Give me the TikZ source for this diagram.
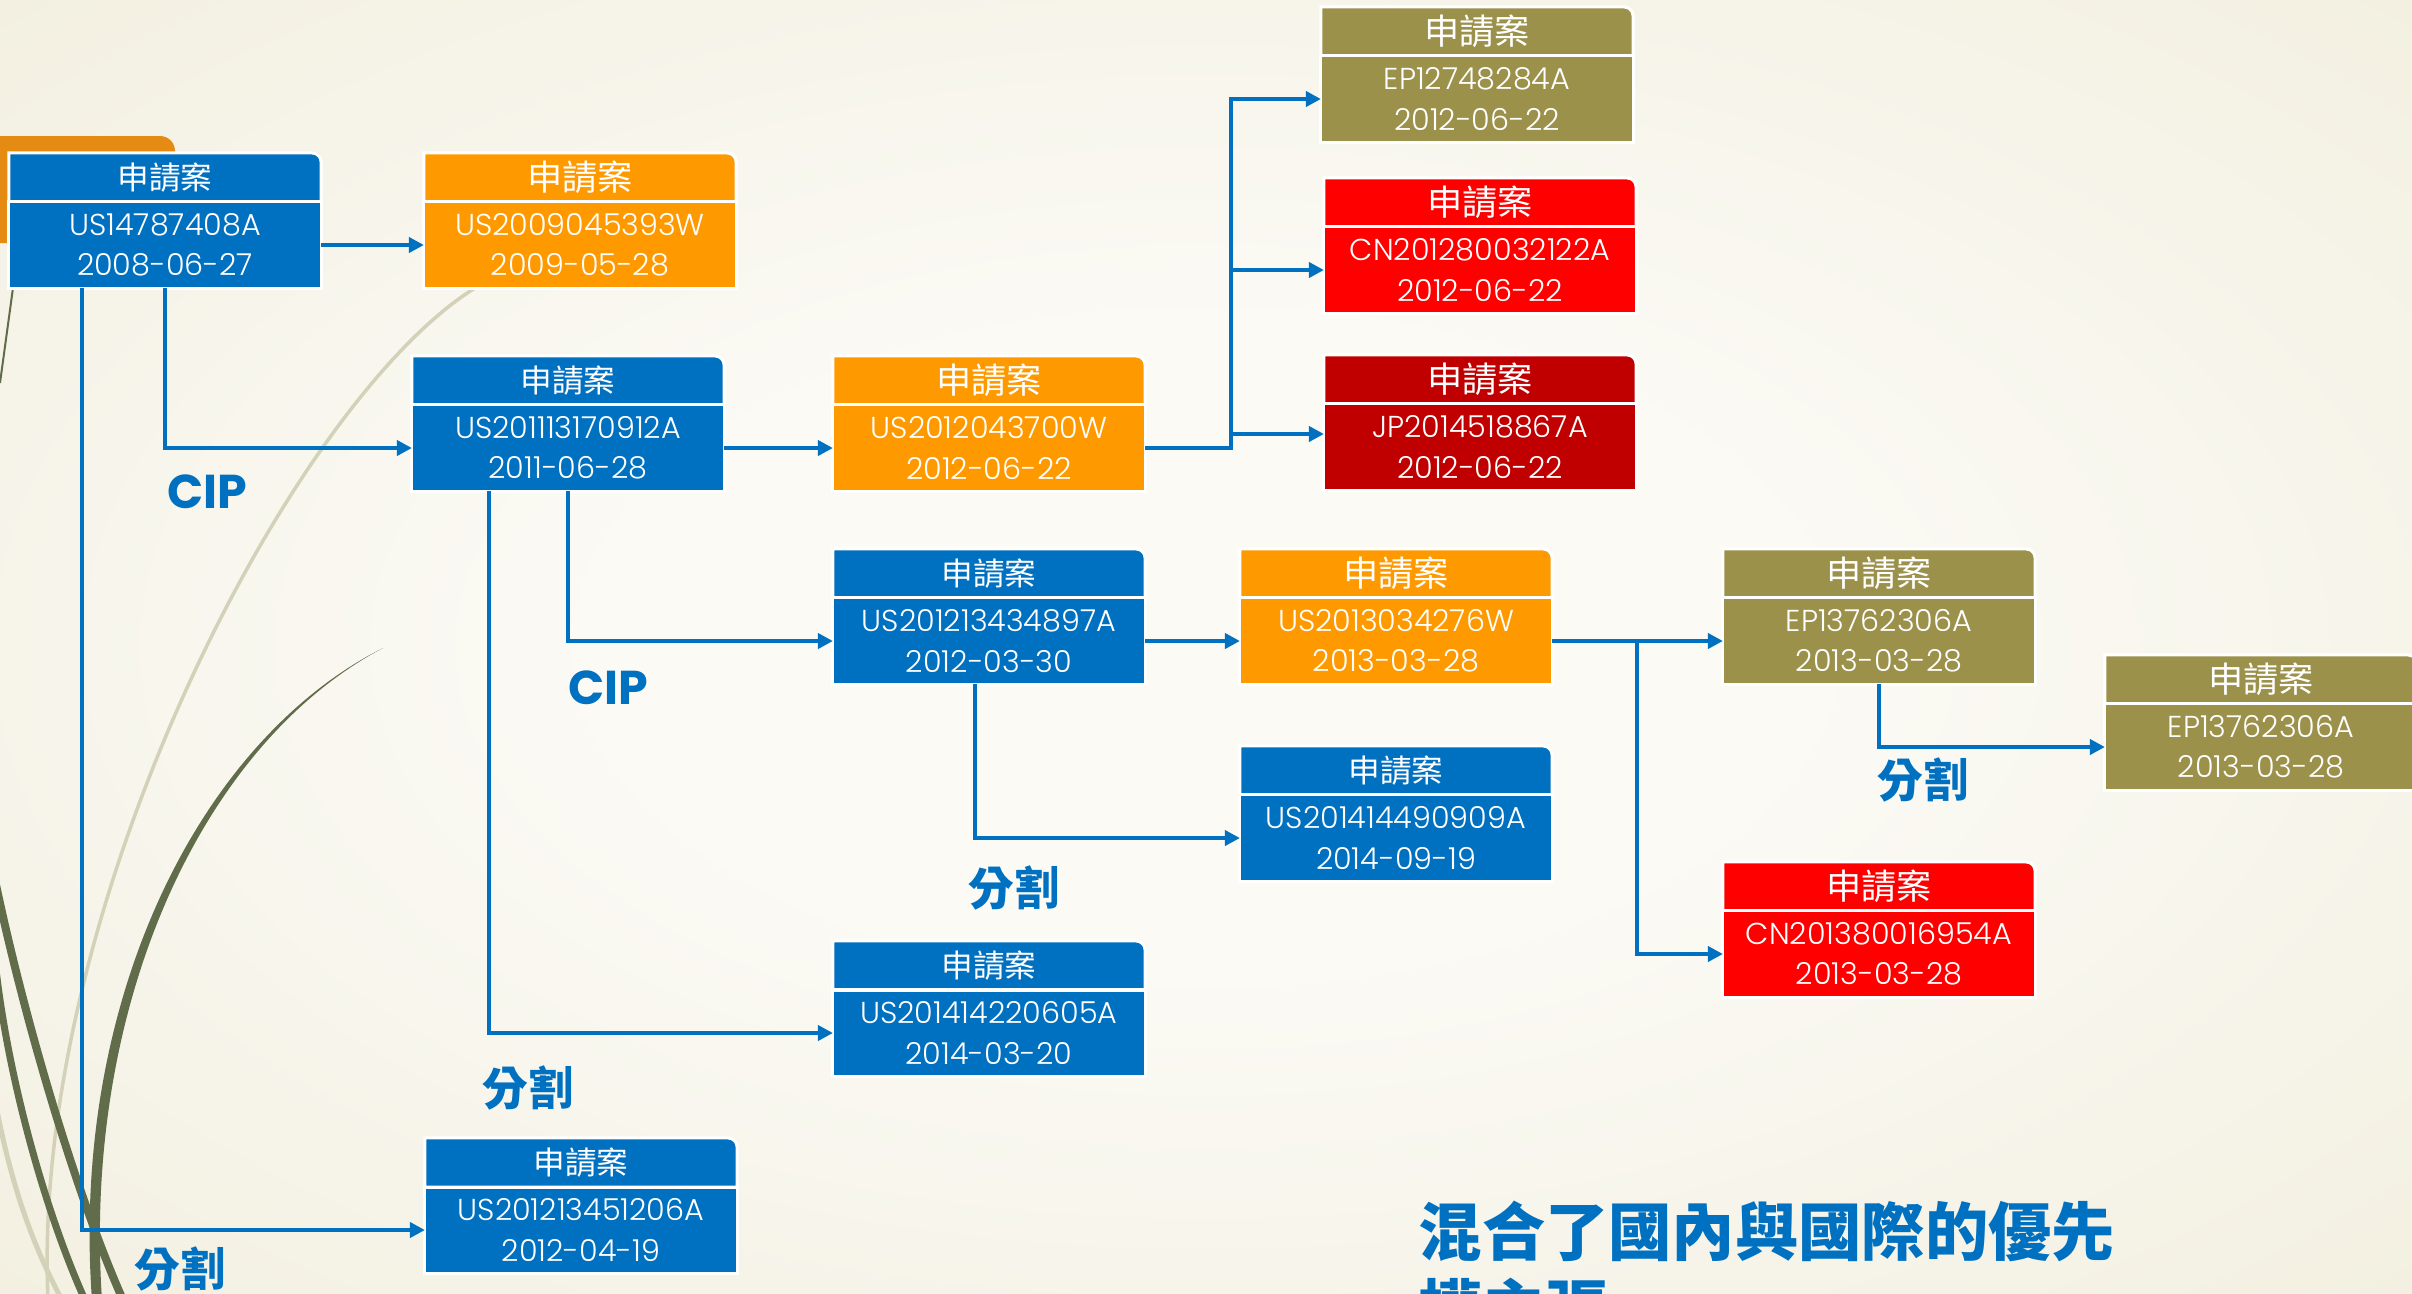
\documentclass[tikz,border=0pt]{standalone}
\usepackage{fontspec}
\setmainfont{Poppins}[UprightFont=* Light, BoldFont=* Bold]
\newfontfamily\cjk{Noto Sans CJK TC}
\usetikzlibrary{arrows.meta}
\usetikzlibrary{positioning}
\usetikzlibrary{backgrounds}

\definecolor{appblue}{HTML}{0070C0}
\definecolor{apporange}{HTML}{FF9900}
\definecolor{appolive}{HTML}{9B914B}
\definecolor{appred}{HTML}{FF0000}
\definecolor{appdarkred}{HTML}{C00000}
\definecolor{taborange}{HTML}{E58A13}
\definecolor{paperin}{HTML}{FBFAF5}
\definecolor{papermid}{HTML}{EEEAD5}
\definecolor{paperout}{HTML}{E5DFBF}
\definecolor{grassdark}{HTML}{616C4B}
\definecolor{grasslight}{HTML}{D3D1B8}

\pgfdeclareradialshading{paperglow}{\pgfpoint{0bp}{0bp}}{color(0bp)=(paperin); color(12bp)=(paperin); color(50bp)=(papermid); color(72bp)=(paperout)}

\pgfdeclarelayer{paper}
\pgfsetlayers{paper,background,main}

\tikzset{
  body/.style={fill=#1, draw=white, line width=0.03cm, text=white,
    minimum width=3.12cm, minimum height=0.86cm, inner sep=0pt, outer sep=0pt,
    align=center, font=\fontsize{8.6}{11.4}\selectfont},
  head/.style={text=white, minimum width=3.12cm, minimum height=0.49cm,
    inner sep=0pt, outer sep=0pt, font=\cjk\fontsize{#1}{#1}\selectfont},
  head/.default=10,
  link/.style={draw=appblue, line width=0.04cm, -{Triangle[length=0.15cm,width=0.15cm]}},
  tag/.style={text=appblue, font=\bfseries\fontsize{13}{13}\selectfont},
}

\begin{document}
\begin{tikzpicture}[x=0.01cm, y=-0.01cm]
    \useasboundingbox (0,0) rectangle (2412,1293);

    % Paper and theme strokes
    \begin{pgfonlayer}{paper}
        \shade[shading=paperglow] (0,0) rectangle (2412,1293);
        \fill[taborange] (0,243) -- (0,136) -- (160,136) arc[start angle=90, end angle=0, radius=0.15cm] -- (175,243) -- cycle;
        \draw[grasslight, line width=0.035cm] (480,285) .. controls (300,390) and (30,900) .. (48,1300);
        \fill[grassdark] (383,648) .. controls (200,740) and (70,1000) .. (92,1300) -- (102,1300) .. controls (82,1000) and (205,742) .. (383,648) -- cycle;
        \draw[grassdark, line width=0.08cm] (-5,880) .. controls (20,1000) and (70,1180) .. (123,1300);
        \draw[grassdark, line width=0.07cm] (-5,960) .. controls (5,1060) and (40,1200) .. (85,1300);
        \draw[grasslight, line width=0.05cm] (-5,1100) .. controls (10,1180) and (30,1240) .. (62,1300);
        \draw[grassdark, line width=0.02cm] (0,383) -- (13,288);
    \end{pgfonlayer}

    % Declare the applications
    \node[body=appblue] at (165,245) (us08) {US14787408A\\2008-06-27};
    \node[body=apporange] at (580,245) (us09) {US2009045393W\\2009-05-28};
    \node[body=appblue] at (568,448) (us11) {US201113170912A\\2011-06-28};
    \node[body=apporange] at (989,448) (us12w) {US2012043700W\\2012-06-22};
    \node[body=appolive] at (1477,99) (ep12) {EP12748284A\\2012-06-22};
    \node[body=appred] at (1480,270) (cn12) {CN201280032122A\\2012-06-22};
    \node[body=appdarkred] at (1480,447) (jp14) {JP2014518867A\\2012-06-22};
    \node[body=appblue] at (989,641) (us12a) {US201213434897A\\2012-03-30};
    \node[body=apporange] at (1396,641) (us13w) {US2013034276W\\2013-03-28};
    \node[body=appblue] at (1396,838) (us14b) {US201414490909A\\2014-09-19};
    \node[body=appolive] at (1879,641) (ep13) {EP13762306A\\2013-03-28};
    \node[body=appolive] at (2261,747) (ep13d) {EP13762306A\\2013-03-28};
    \node[body=appred] at (1879,954) (cn13) {CN201380016954A\\2013-03-28};
    \node[body=appblue] at (989,1033) (us14a) {US201414220605A\\2014-03-20};
    \node[body=appblue] at (581,1230) (us12b) {US201213451206A\\2012-04-19};

    % Declare the headers
    \node[head=9, above=0pt of us08] (us08h) {申請案};
    \node[head, above=0pt of us09] (us09h) {申請案};
    \node[head=9, above=0pt of us11] (us11h) {申請案};
    \node[head, above=0pt of us12w] (us12wh) {申請案};
    \node[head, above=0pt of ep12] (ep12h) {申請案};
    \node[head, above=0pt of cn12] (cn12h) {申請案};
    \node[head, above=0pt of jp14] (jp14h) {申請案};
    \node[head=9, above=0pt of us12a] (us12ah) {申請案};
    \node[head, above=0pt of us13w] (us13wh) {申請案};
    \node[head=9, above=0pt of us14b] (us14bh) {申請案};
    \node[head, above=0pt of ep13] (ep13h) {申請案};
    \node[head, above=0pt of ep13d] (ep13dh) {申請案};
    \node[head, above=0pt of cn13] (cn13h) {申請案};
    \node[head=9, above=0pt of us14a] (us14ah) {申請案};
    \node[head=9, above=0pt of us12b] (us12bh) {申請案};

    \begin{pgfonlayer}{background}
        \foreach \h/\c in {us08h/appblue, us09h/apporange, us11h/appblue, us12wh/apporange,
                ep12h/appolive, cn12h/appred, jp14h/appdarkred, us12ah/appblue, us13wh/apporange,
                us14bh/appblue, ep13h/appolive, ep13dh/appolive, cn13h/appred, us14ah/appblue, us12bh/appblue}
            \filldraw[fill=\c, draw=white, line width=0.03cm] (\h.south west) -- (\h.north west)
                -- ([xshift=-0.09cm]\h.north east) arc[start angle=90, end angle=0, radius=0.09cm]
                -- (\h.south east) -- cycle;
    \end{pgfonlayer}

    % Declare edges
    \draw[link] (us08) -- (us09);
    \draw[link] (us08.south) |- (us11.west);
    \draw[link] ([xshift=-0.83cm]us08.south) |- (us12b.west);
    \draw[link] (us11) -- (us12w);
    \draw[link] (us12w.east) -- ++(0.86cm,0) coordinate (fork) |- (ep12.west);
    \draw[link] (fork) |- (cn12.west);
    \draw[link] ([yshift=0.13cm]jp14.west -| fork) -- ([yshift=0.13cm]jp14.west);
    \draw[link] (us11.south) |- (us12a.west);
    \draw[link] ([xshift=-0.79cm]us11.south) |- (us14a.west);
    \draw[link] (us12a) -- (us13w);
    \draw[link] ([xshift=-0.14cm]us12a.south) |- (us14b.west);
    \draw[link] (us13w) -- (ep13);
    \draw[link] (us13w.east) -- ++(0.85cm,0) |- (cn13.west);
    \draw[link] (ep13.south) |- (ep13d.west);

    % Declare edge labels
    \node[tag, font=\bfseries\fontsize{13.5}{13.5}\selectfont] at (207,492) (cip1) {CIP};
    \node[tag, font=\bfseries\fontsize{13.5}{13.5}\selectfont] at (608,688) (cip2) {CIP};
    \node[tag, font=\cjk\bfseries\fontsize{13}{13}\selectfont] at (528,1088) (split1) {分割};
    \node[tag, font=\cjk\bfseries\fontsize{13}{13}\selectfont] at (180,1269) (split2) {分割};
    \node[tag, font=\cjk\bfseries\fontsize{13}{13}\selectfont] at (1014,888) (split3) {分割};
    \node[tag, font=\cjk\bfseries\fontsize{13}{13}\selectfont] at (1923,780) (split4) {分割};

    % Declare the title
    \node[tag, font=\cjk\bfseries\fontsize{18}{18}\selectfont, anchor=base west, inner sep=0pt] at (1418,1255) (title1) {混合了國內與國際的優先};
    \node[tag, font=\cjk\bfseries\fontsize{18}{18}\selectfont, anchor=base west, inner sep=0pt] at (1418,1332) (title2) {權主張};

\end{tikzpicture}
\end{document}
